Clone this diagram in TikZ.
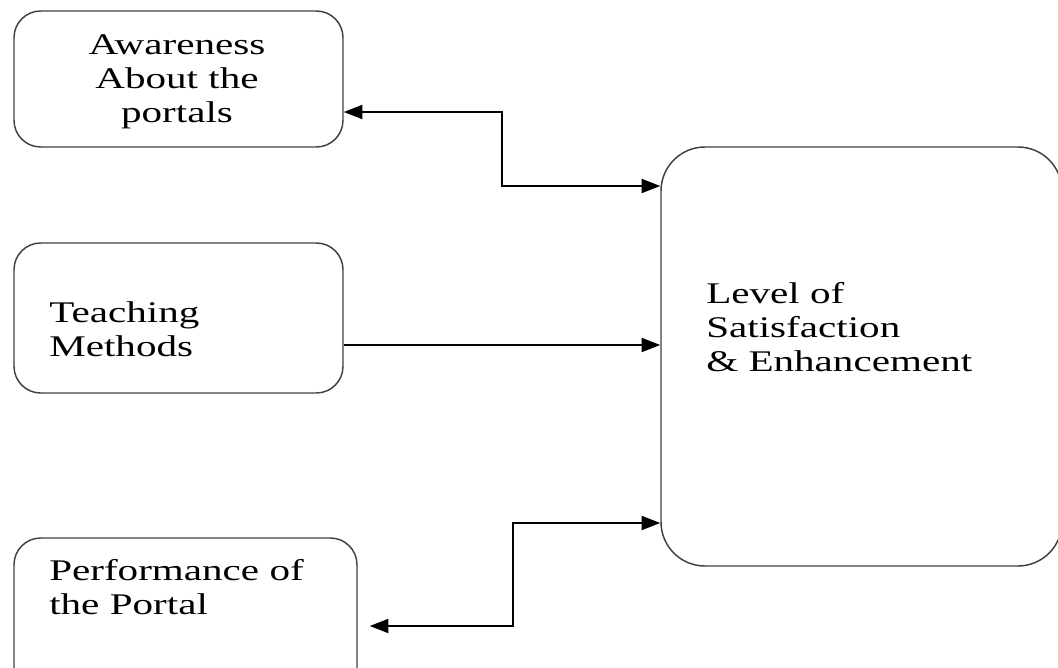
\documentclass[tikz,border=0pt]{standalone}
\usepackage{fontspec}
\setmainfont{Liberation Serif}[FakeStretch=1.37]
\usepackage{tikz}
\usetikzlibrary{arrows.meta, calc}

\tikzset{
  box/.style={draw=black!75, line width=1.1pt, rounded corners=20pt, inner sep=0pt},
  txt/.style={inner sep=0pt, align=left, font=\fontsize{22.5pt}{25.5pt}\selectfont},
  link/.style={line width=1.4pt, -{Triangle[length=14pt,width=10.5pt]}},
  dlink/.style={line width=1.4pt, {Triangle[length=14pt,width=10.5pt]}-{Triangle[length=14pt,width=10.5pt]}}
}

\begin{document}
\begin{tikzpicture}[x=0.75pt, y=-0.75pt]

% Fix the frame
\useasboundingbox (0,0) rectangle (1058,668);
\clip (0,0) rectangle (1058,668);

% Draw the boxes
\node[box, minimum width=246.75pt, minimum height=102pt] (aware) at (178.5,79) {};
\node[box, minimum width=246.75pt, minimum height=112.5pt] (teach) at (178.5,318) {};
\node[box, minimum width=257.25pt, minimum height=121.5pt] (perf) at (185.5,619) {};
\node[box, rounded corners=33pt, minimum width=300.75pt, minimum height=314.25pt] (level) at (861.5,356.5) {};

% Put the texts in
\node[txt, align=center, anchor=north] (awaretxt) at (177,34) {Awareness\\About the\\portals};
\node[txt, anchor=north west] (teachtxt) at (49,301) {Teaching\\Methods};
\node[txt, anchor=north west] (perftxt) at (49,559) {Performance of\\the Portal};
\node[txt, anchor=north west] (leveltxt) at (706,282) {Level of\\Satisfaction\\\& Enhancement};

% Top connector
\coordinate (t1) at (502,112);
\coordinate (t2) at (502,186);
\draw[dlink] (aware.east |- t1) -- (t1) -- (t2) -- (level.west |- t2);

% Middle connector
\coordinate (m1) at (343,345);
\draw[link] (teach.east |- m1) -- (level.west |- m1);

% Bottom connector
\coordinate (b1) at (513,523);
\coordinate (b2) at (513,626);
\draw[dlink] (level.west |- b1) -- (b1) -- (b2) -- ($(perf.east |- b2)+(12,0)$);

\end{tikzpicture}
\end{document}
